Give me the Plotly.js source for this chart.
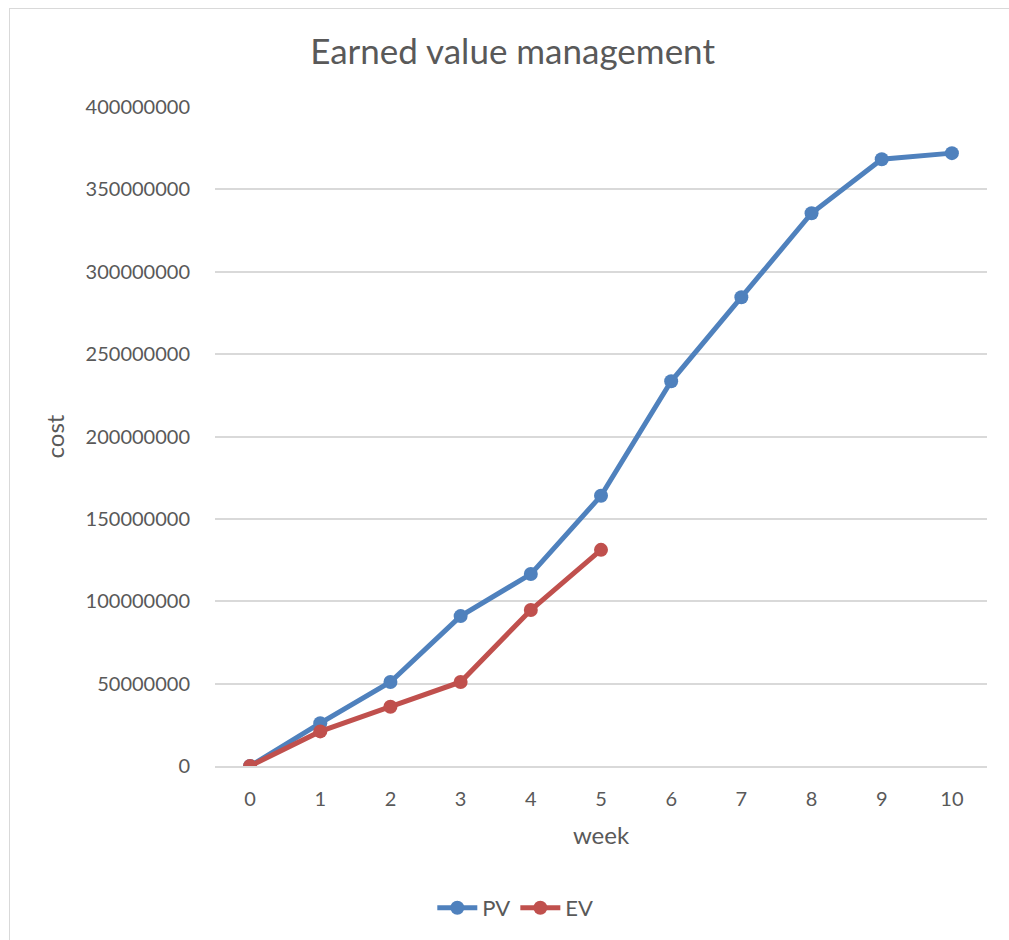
<!DOCTYPE html>
<html>
<head>
<meta charset="utf-8">
<script src="https://cdn.plot.ly/plotly-3.0.1.min.js"></script>
<style>
  html, body { margin: 0; padding: 0; background: #ffffff; }
  #frame { position: absolute; left: 9px; top: 8px; width: 1100px; height: 1000px;
           border-left: 1px solid #d9d9d9; border-top: 1px solid #d9d9d9; pointer-events: none; }
  #chart { position: absolute; left: 0; top: 0; width: 1009px; height: 940px; }
</style>
</head>
<body>
<div id="chart"></div>
<div id="frame"></div>
<script>
const weeks = [0, 1, 2, 3, 4, 5, 6, 7, 8, 9, 10];
const evWeeks = [0, 1, 2, 3, 4, 5];
const pvValues = [0, 26000000, 51000000, 91000000, 116500000, 164000000, 233500000, 284500000, 335500000, 368300000, 372000000];
const evValues = [0, 21000000, 36000000, 51000000, 94700000, 131200000];
const yTicks = [0, 50000000, 100000000, 150000000, 200000000, 250000000, 300000000, 350000000, 400000000];
const yTickLabels = ["0", "50000000", "100000000", "150000000", "200000000", "250000000", "300000000", "350000000", "400000000"];

const FONT = "Lato, 'Open Sans', sans-serif";
const TXT = "#595959";

const traces = [
  {
    x: weeks, y: pvValues, name: "PV", type: "scatter", mode: "lines+markers",
    line: { color: "#4f81bd", width: 5 },
    marker: { color: "#4f81bd", size: 14 }
  },
  {
    x: evWeeks, y: evValues, name: "EV", type: "scatter", mode: "lines+markers",
    line: { color: "#c0504d", width: 5 },
    marker: { color: "#c0504d", size: 14 }
  }
];

const layout = {
  width: 1009, height: 940,
  margin: { l: 215, r: 22, t: 107, b: 173 },
  paper_bgcolor: "rgba(0,0,0,0)",
  plot_bgcolor: "#ffffff",
  font: { family: FONT, color: TXT, size: 20 },
  title: {
    text: "Earned value management",
    font: { family: FONT, size: 35, color: TXT },
    x: 0.508, xanchor: "center", y: 0.945, yanchor: "middle"
  },
  xaxis: {
    range: [-0.5, 10.5],
    tickmode: "array", tickvals: weeks, ticktext: weeks.map(String),
    showgrid: false, zeroline: false,
    showline: true, linecolor: "#d9d9d9", linewidth: 2,
    ticks: "outside", ticklen: 14, tickcolor: "rgba(0,0,0,0)",
    tickfont: { family: FONT, size: 20, color: TXT },
    title: { text: "week", font: { family: FONT, size: 24, color: TXT }, standoff: 18 }
  },
  yaxis: {
    range: [0, 400000000],
    tickmode: "array", tickvals: yTicks, ticktext: yTickLabels,
    showgrid: true, gridcolor: "#d9d9d9", gridwidth: 2,
    zeroline: false, showline: false,
    ticks: "outside", ticklen: 20, tickcolor: "rgba(0,0,0,0)",
    tickfont: { family: FONT, size: 20, color: TXT },
    title: { text: "cost", font: { family: FONT, size: 24, color: TXT }, standoff: 14 }
  },
  showlegend: true,
  legend: {
    orientation: "h", x: 0.389, xanchor: "center", y: -0.2136, yanchor: "middle",
    font: { family: FONT, size: 22, color: TXT }, itemwidth: 40
  }
};

Plotly.newPlot("chart", traces, layout, { displayModeBar: false, responsive: false });
</script>
</body>
</html>
